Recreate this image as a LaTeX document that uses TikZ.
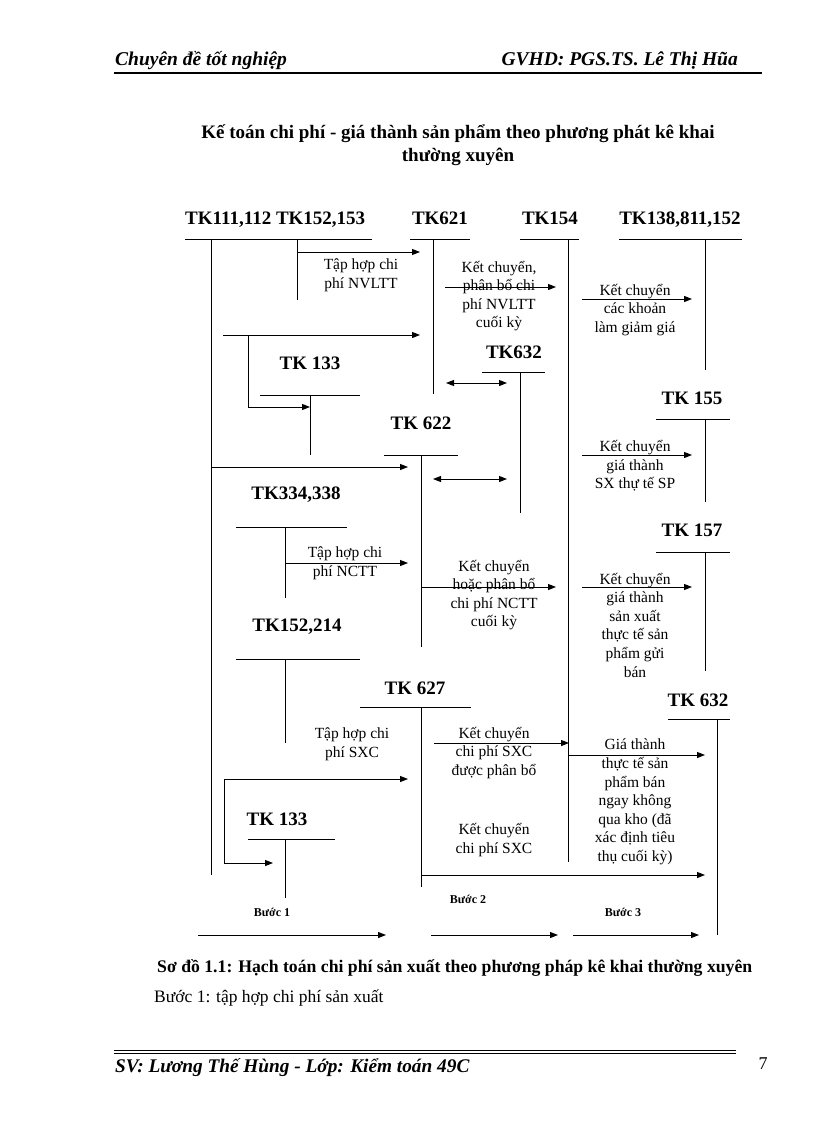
\documentclass[tikz,border=0pt]{standalone}
\usepackage{fontspec}
\setmainfont{Liberation Serif}
\usetikzlibrary{arrows.meta}
\begin{document}
\begin{tikzpicture}[x=1pt,y=-1pt,
  ln/.style={line width=1pt},
  ar/.style={line width=1pt,-{Triangle[length=8pt,width=6pt]}},
  dar/.style={line width=1pt,{Triangle[length=8pt,width=6pt]}-{Triangle[length=8pt,width=6pt]}},
  tk/.style={font=\fontsize{19}{22}\bfseries\selectfont,inner sep=0pt},
  lb/.style={font=\fontsize{15.5}{18.6}\selectfont,align=center,inner sep=0pt},
  bc/.style={font=\fontsize{12}{14}\bfseries\selectfont,inner sep=0pt}]
\useasboundingbox[fill=white] (0,0) rectangle (816,1123);
% header / footer
\node[anchor=base west,font=\fontsize{19.5}{22}\bfseries\itshape\selectfont,inner sep=0pt] (h1) at (115,66) {Chuyên đề tốt nghiệp};
\node[anchor=base east,font=\fontsize{19.5}{22}\bfseries\itshape\selectfont,inner sep=0pt] (h2) at (738,66) {GVHD: PGS.TS. Lê Thị Hũa};
\coordinate (hl1) at (114,73); \coordinate (hl2) at (762,73);
\draw[line width=1.5pt] (hl1) -- (hl2);
\node[font=\fontsize{19}{23}\bfseries\selectfont,align=center,inner sep=0pt] (title) at (458,145) {Kế toán chi phí - giá thành sản phẩm theo phương phát kê khai\\thường xuyên};
\node[anchor=base west,font=\fontsize{17.7}{20}\bfseries\selectfont,inner sep=0pt] (cap) at (157,972) {Sơ đồ 1.1: Hạch toán chi phí sản xuất theo phương pháp kê khai thường xuyên};
\node[anchor=base west,font=\fontsize{17.5}{20}\selectfont,inner sep=0pt] (cap2) at (154,1002) {Bước 1: tập hợp chi phí sản xuất};
\coordinate (f1) at (114,1050); \coordinate (f2) at (736,1050);
\coordinate (f3) at (114,1053); \coordinate (f4) at (736,1053);
\draw[line width=0.8pt] (f1) -- (f2); \draw[line width=0.8pt] (f3) -- (f4);
\node[anchor=base west,font=\fontsize{19.3}{22}\bfseries\itshape\selectfont,inner sep=0pt] (foot) at (115,1072) {SV: Lương Thế Hùng - Lớp: Kiểm toán 49C};
\node[anchor=base,font=\fontsize{18}{20}\selectfont,inner sep=0pt] (pg) at (763,1069) {7};
% account headers
\node[tk,anchor=base west] (t111) at (185,225) {TK111,112 TK152,153};
\node[tk,anchor=base] (t621) at (440,225) {TK621};
\node[tk,anchor=base] (t154) at (550,225) {TK154};
\node[tk,anchor=base] (t138) at (680,225) {TK138,811,152};
\coordinate (a1) at (185,239); \coordinate (a2) at (372,239);
\coordinate (b1) at (410,239); \coordinate (b2) at (470,239);
\coordinate (c1) at (520,239); \coordinate (c2) at (579,239);
\coordinate (d1) at (619,239); \coordinate (d2) at (742,239);
\draw[ln] (a1)--(a2) (b1)--(b2) (c1)--(c2) (d1)--(d2);
\coordinate (v111a) at (211,239); \coordinate (v111b) at (211,875);
\coordinate (v152a) at (297,239); \coordinate (v152b) at (297,300);
\coordinate (v621a) at (433,239); \coordinate (v621b) at (433,394);
\coordinate (v154a) at (568,239); \coordinate (v154b) at (568,862);
\coordinate (v138a) at (705,239); \coordinate (v138b) at (705,370);
\draw[ln] (v111a)--(v111b) (v152a)--(v152b) (v621a)--(v621b) (v154a)--(v154b) (v138a)--(v138b);
% NVLTT
\coordinate (p1) at (297,252); \coordinate (p2) at (420,252);
\draw[ar] (p1)--(p2);
\node[lb] (l1) at (361,275) {Tập hợp chi\\phí NVLTT};
\coordinate (p3) at (445,287); \coordinate (p4) at (556,287);
\draw[ar] (p3)--(p4);
\node[lb] (l2) at (499,296) {Kết chuyển,\\phân bổ chi\\phí NVLTT\\cuối kỳ};
\coordinate (p5) at (582,299); \coordinate (p6) at (692,299);
\draw[ar] (p5)--(p6);
\node[lb] (l3) at (635,310) {Kết chuyển\\các khoản\\làm giảm giá};
% TK133 upper
\coordinate (q1) at (223,335); \coordinate (q2) at (420,335);
\draw[ar] (q1)--(q2);
\coordinate (q3) at (248,335); \coordinate (q4) at (248,407); \coordinate (q5) at (310,407);
\draw[ar] (q3)--(q4)--(q5);
\node[tk] (t133a) at (310,363) {TK 133};
\coordinate (r1) at (260,395); \coordinate (r2) at (360,395);
\coordinate (r3) at (310,395); \coordinate (r4) at (310,455);
\draw[ln] (r1)--(r2) (r3)--(r4);
% TK632 mid
\node[tk] (t632a) at (514,352) {TK632};
\coordinate (s1) at (482,372); \coordinate (s2) at (545,372);
\coordinate (s3) at (520,372); \coordinate (s4) at (520,513);
\draw[ln] (s1)--(s2) (s3)--(s4);
\coordinate (s5) at (446,383); \coordinate (s6) at (507,383);
\draw[dar] (s5)--(s6);
% TK155
\node[tk] (t155) at (692,398) {TK 155};
\coordinate (u1) at (656,419); \coordinate (u2) at (730,419);
\coordinate (u3) at (705,419); \coordinate (u4) at (705,502);
\draw[ln] (u1)--(u2) (u3)--(u4);
\coordinate (u5) at (582,455); \coordinate (u6) at (692,455);
\draw[ar] (u5)--(u6);
\node[lb] (l4) at (635,466) {Kết chuyển\\giá thành\\SX thự tế SP};
% TK622
\node[tk] (t622) at (421,423) {TK 622};
\coordinate (w1) at (384,455); \coordinate (w2) at (458,455);
\coordinate (w3) at (421,455); \coordinate (w4) at (421,647);
\draw[ln] (w1)--(w2) (w3)--(w4);
\coordinate (w5) at (211,467); \coordinate (w6) at (408,467);
\draw[ar] (w5)--(w6);
\coordinate (w7) at (433,479); \coordinate (w8) at (507,479);
\draw[dar] (w7)--(w8);
% TK334
\node[tk] (t334) at (296,495) {TK334,338};
\coordinate (x1) at (236,527); \coordinate (x2) at (347,527);
\coordinate (x3) at (285,527); \coordinate (x4) at (285,598);
\draw[ln] (x1)--(x2) (x3)--(x4);
\coordinate (x5) at (285,563); \coordinate (x6) at (408,563);
\draw[ar] (x5)--(x6);
\node[lb] (l5) at (345,563) {Tập hợp chi\\phí NCTT};
\coordinate (x7) at (421,587); \coordinate (x8) at (556,587);
\draw[ar] (x7)--(x8);
\node[lb] (l6) at (494,595) {Kết chuyển\\hoặc phân bổ\\chi phí NCTT\\cuối kỳ};
% TK157
\node[tk] (t157) at (692,530) {TK 157};
\coordinate (y1) at (656,552); \coordinate (y2) at (730,552);
\coordinate (y3) at (705,552); \coordinate (y4) at (705,671);
\draw[ln] (y1)--(y2) (y3)--(y4);
\coordinate (y5) at (582,587); \coordinate (y6) at (692,587);
\draw[ar] (y5)--(y6);
\node[lb] (l7) at (635,625) {Kết chuyển\\giá thành\\sản xuất\\thực tế sản\\phẩm gửi\\bán};
% TK152,214
\node[tk] (t152) at (297,627) {TK152,214};
\coordinate (z1) at (236,659); \coordinate (z2) at (360,659);
\coordinate (z3) at (285,659); \coordinate (z4) at (285,743);
\draw[ln] (z1)--(z2) (z3)--(z4);
% TK627
\node[tk] (t627) at (415,688) {TK 627};
\coordinate (m1) at (360,707); \coordinate (m2) at (471,707);
\coordinate (m3) at (421,707); \coordinate (m4) at (421,887);
\draw[ln] (m1)--(m2) (m3)--(m4);
\node[lb] (l8) at (352,744) {Tập hợp chi\\phí SXC};
\coordinate (m5) at (434,743); \coordinate (m6) at (569,743);
\draw[ar] (m5)--(m6);
\node[lb] (l9) at (494,753) {Kết chuyển\\chi phí SXC\\được phân bổ};
% TK632 bottom
\node[tk] (t632b) at (698,700) {TK 632};
\coordinate (n1) at (668,719); \coordinate (n2) at (730,719);
\coordinate (n3) at (717,719); \coordinate (n4) at (717,935);
\draw[ln] (n1)--(n2) (n3)--(n4);
\coordinate (n5) at (568,755); \coordinate (n6) at (705,755);
\draw[ar] (n5)--(n6);
\node[lb] (l10) at (635,802) {Giá thành\\thực tế sản\\phẩm bán\\ngay không\\qua kho (đã\\xác định tiêu\\thụ cuối kỳ)};
% TK133 lower
\coordinate (k1) at (224,779); \coordinate (k2) at (408,779);
\draw[ar] (k1)--(k2);
\coordinate (k3) at (224,863); \coordinate (k4) at (273,863);
\draw[ar] (k1)--(k3)--(k4);
\node[tk] (t133b) at (277,819) {TK 133};
\coordinate (g1) at (248,839); \coordinate (g2) at (335,839);
\coordinate (g3) at (285,839); \coordinate (g4) at (285,898);
\draw[ln] (g1)--(g2) (g3)--(g4);
\node[lb] (l11) at (494,840) {Kết chuyển\\chi phí SXC};
\coordinate (g5) at (421,875); \coordinate (g6) at (705,875);
\draw[ar] (g5)--(g6);
% steps
\node[bc] (b1n) at (272,912) {Bước 1};
\node[bc] (b2n) at (468,899) {Bước 2};
\node[bc] (b3n) at (623,912) {Bước 3};
\coordinate (e1) at (198,935); \coordinate (e2) at (386,935);
\coordinate (e3) at (431,935); \coordinate (e4) at (558,935);
\coordinate (e5) at (573,935); \coordinate (e6) at (699,935);
\draw[ar] (e1)--(e2); \draw[ar] (e3)--(e4); \draw[ar] (e5)--(e6);
\end{tikzpicture}
\end{document}
